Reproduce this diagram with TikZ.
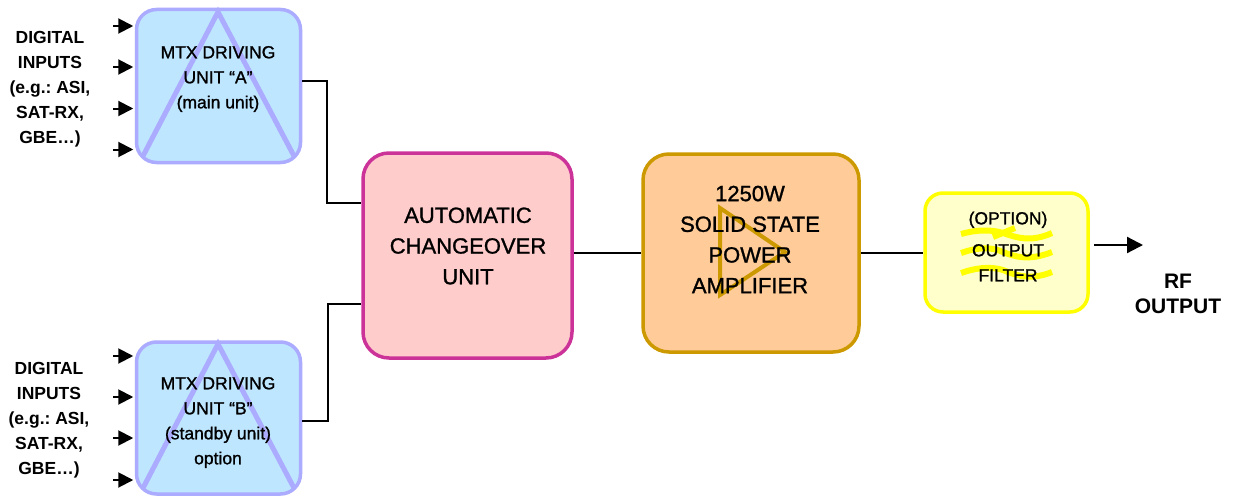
\documentclass[tikz,border=0pt]{standalone}
\usepackage{fontspec}
\setmainfont{Liberation Sans}
\newfontfamily\heavyfont[FakeBold=1.2]{Liberation Sans}
\frenchspacing
\usetikzlibrary{arrows.meta}
\definecolor{bluefill}{HTML}{BFE6FF}
\definecolor{bluedraw}{HTML}{ABABFF}
\definecolor{pinkfill}{HTML}{FFCCCC}
\definecolor{pinkdraw}{HTML}{CC3399}
\definecolor{orangefill}{HTML}{FFCC99}
\definecolor{orangedraw}{HTML}{CC9900}
\definecolor{yellowfill}{HTML}{FFFFCC}
\definecolor{yellowdraw}{HTML}{FFFF00}
\tikzset{
  unitbox/.style={draw,rounded corners=#1,anchor=center,inner sep=0pt},
  smalltext/.style={align=center,inner sep=0pt,font=\fontsize{17.5}{25}\heavyfont},
  boldtext/.style={align=center,inner sep=0pt,font=\fontsize{17.5}{25}\selectfont\bfseries},
  bigtext/.style={align=center,inner sep=0pt,font=\fontsize{22}{30.7}\heavyfont},
  rftext/.style={align=center,inner sep=0pt,font=\fontsize{21}{25}\selectfont\bfseries},
  link/.style={draw=black,line width=1.6pt},
  inarrow/.style={draw=black,line width=2pt,-{Triangle[length=15pt,width=15pt]}},
  outarrow/.style={draw=black,line width=2.2pt,-{Triangle[length=16pt,width=16pt]}},
  glyphline/.style={line join=miter,fill=none}
}
\begin{document}
\begin{tikzpicture}[x=1pt,y=-1pt]
\useasboundingbox (0,0) rectangle (1233,495);
% boxes
\node[unitbox=20pt,fill=bluefill,draw=bluedraw,line width=3.5pt,minimum width=164pt,minimum height=153pt] (a) at (218.5,86) {};
\node[unitbox=20pt,fill=bluefill,draw=bluedraw,line width=3.5pt,minimum width=164pt,minimum height=152pt] (b) at (218.5,418) {};
\node[unitbox=26pt,fill=pinkfill,draw=pinkdraw,line width=3.5pt,minimum width=209pt,minimum height=205pt] (c) at (467.5,255.5) {};
\node[unitbox=26pt,fill=orangefill,draw=orangedraw,line width=3.5pt,minimum width=216pt,minimum height=198pt] (p) at (751,253) {};
\node[unitbox=18pt,fill=yellowfill,draw=yellowdraw,line width=3.5pt,minimum width=163pt,minimum height=119pt] (f) at (1006.5,252.5) {};
% symbols
\draw[glyphline,bluedraw,line width=5pt] (143,156) -- (218,12) -- (294,156);
\draw[glyphline,bluedraw,line width=5pt] (143,488) -- (218,344) -- (294,488);
\draw[glyphline,orangedraw,line width=4pt] (720,208) -- (785,252) -- (720,295) -- cycle;
\begin{scope}[yellowdraw,line width=6pt,fill=none]
\draw (961,234) .. controls (975,230) and (990,229) .. (1003,233) .. controls (1015,237) and (1030,243) .. (1052,233);
\draw (993,237) -- (1015,228);
\draw (961,253) .. controls (975,248) and (990,246) .. (1003,252) .. controls (1015,257) and (1030,261) .. (1052,252);
\draw (961,273) .. controls (975,268) and (990,266) .. (1003,270) .. controls (1015,275) and (1030,281) .. (1052,272);
\end{scope}
% labels
\node[smalltext] (at) at (218,79) {MTX DRIVING\\UNIT “A”\\(main unit)};
\node[smalltext] (bt) at (218,422.5) {MTX DRIVING\\UNIT “B”\\(standby unit)\\option};
\node[bigtext] (ct) at (468,246) {AUTOMATIC\\CHANGEOVER\\UNIT};
\node[bigtext] (pt) at (750,239.5) {1250W\\SOLID STATE\\POWER\\AMPLIFIER};
\node[smalltext] (ft) at (1008,246.5) {(OPTION)\\[7pt]OUTPUT\\FILTER};
\node[boldtext] (la) at (50,89) {DIGITAL\\INPUTS\\(e.g.: ASI,\\SAT-RX,\\GBE…)};
\node[boldtext] (lb) at (49,420) {DIGITAL\\INPUTS\\(e.g.: ASI,\\SAT-RX,\\GBE…)};
\node[rftext] (rf) at (1178,293.5) {RF\\OUTPUT};
% input arrows
\coordinate (a1) at (113,26); \coordinate (a2) at (113,67); \coordinate (a3) at (113,108.5); \coordinate (a4) at (113,149.5);
\coordinate (b1) at (113,356); \coordinate (b2) at (113,397); \coordinate (b3) at (113,438); \coordinate (b4) at (113,480);
\foreach \n in {a1,a2,a3,a4}{\draw[inarrow,shorten >=1.5pt] (\n) -- (\n -| a.west);}
\foreach \n in {b1,b2,b3,b4}{\draw[inarrow,shorten >=1.5pt] (\n) -- (\n -| b.west);}
% connectors
\coordinate (ja) at (327,81); \coordinate (jb) at (328,421);
\coordinate (ca) at (327,203); \coordinate (cb) at (328,304);
\coordinate (cp) at (600,253); \coordinate (pf) at (890,253);
\draw[link] (ja -| a.east) -- (ja) -- (ca) -- (ca -| c.west);
\draw[link] (jb -| b.east) -- (jb) -- (cb) -- (cb -| c.west);
\draw[link] (cp -| c.east) -- (cp -| p.west);
\draw[link] (pf -| p.east) -- (pf -| f.west);
\coordinate (o1) at (1094,245); \coordinate (o2) at (1143,245);
\draw[outarrow] (o1) -- (o2);
\end{tikzpicture}
\end{document}
